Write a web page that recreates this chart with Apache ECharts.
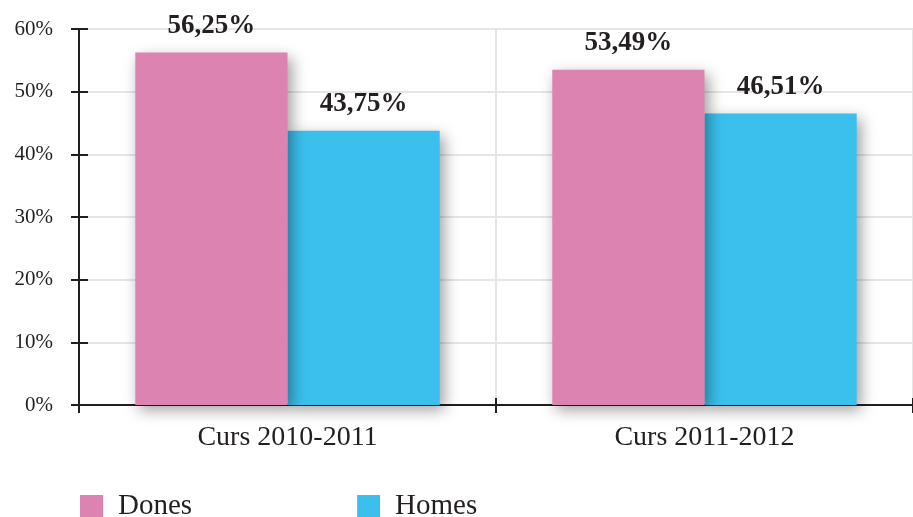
<!DOCTYPE html>
<html><head><meta charset="utf-8">
<script src="https://cdn.jsdelivr.net/npm/echarts@6/dist/echarts.min.js"></script>
<style>html,body{margin:0;padding:0;background:#fff}#c{width:913px;height:517px}</style>
</head><body><div id="c"></div>
<script>
const categories = ['Curs 2010-2011', 'Curs 2011-2012'];
const seriesNames = ['Dones', 'Homes'];
const dones = [56.25, 53.49];
const homes = [43.75, 46.51];
const yTicks = [0, 10, 20, 30, 40, 50, 60];

const FONT = '"Liberation Serif", "DejaVu Serif", serif';
const INK = '#231f20';
const fmt = v => v.toFixed(2).replace('.', ',') + '%';

const chart = echarts.init(document.getElementById('c'), null, {renderer: 'canvas'});
const yMin = yTicks[0], yMax = yTicks[yTicks.length - 1], yInt = yTicks[1] - yTicks[0];
chart.setOption({
  animation: false,
  backgroundColor: '#fff',
  grid: {left: 79, right: -4, top: 29, bottom: 112},
  legend: {
    left: 75, top: 487, itemWidth: 23, itemHeight: 23, itemGap: 165,
    icon: 'rect',
    textStyle: {fontFamily: FONT, fontSize: 29, color: INK, padding: [0, 0, 0, 10]},
    data: seriesNames
  },
  xAxis: [{
    type: 'category', data: categories,
    axisLine: {lineStyle: {color: INK, width: 2}},
    axisTick: {show: true, length: 8, lineStyle: {color: INK, width: 2}},
    axisLabel: {fontFamily: FONT, fontSize: 28, color: INK, margin: 19},
    splitLine: {show: true, lineStyle: {color: '#e6e6e6', width: 2}}
  }, {
    type: 'category', data: categories, position: 'bottom',
    axisLine: {show: false},
    axisTick: {show: true, inside: true, length: 7, lineStyle: {color: INK, width: 2}},
    axisLabel: {show: false}, splitLine: {show: false}
  }],
  yAxis: [{
    type: 'value', min: yMin, max: yMax, interval: yInt,
    axisLine: {show: true, lineStyle: {color: INK, width: 2}},
    axisTick: {show: true, length: 8, lineStyle: {color: INK, width: 2}},
    axisLabel: {fontFamily: FONT, fontSize: 21, color: INK, margin: 26, formatter: '{value}%'},
    splitLine: {show: true, lineStyle: {color: '#e6e6e6', width: 2}}
  }, {
    type: 'value', min: yMin, max: yMax, interval: yInt, position: 'left',
    axisLine: {show: false},
    axisTick: {show: true, inside: true, length: 9, lineStyle: {color: INK, width: 2}},
    axisLabel: {show: false}, splitLine: {show: false}
  }],
  series: [{
    name: seriesNames[0], type: 'bar', data: dones, z: 3,
    barCategoryGap: '27%', barGap: '0%',
    itemStyle: {color: '#dc83b2', shadowBlur: 14, shadowColor: 'rgba(0,0,0,0.38)', shadowOffsetX: 4, shadowOffsetY: 5},
    label: {show: true, position: 'top', distance: 13, fontFamily: FONT, fontSize: 27, fontWeight: 'bold', color: INK, formatter: p => fmt(p.value)}
  }, {
    name: seriesNames[1], type: 'bar', data: homes, z: 2,
    barCategoryGap: '27%', barGap: '0%',
    itemStyle: {color: '#3bc0ee', shadowBlur: 14, shadowColor: 'rgba(0,0,0,0.38)', shadowOffsetX: 4, shadowOffsetY: 5},
    label: {show: true, position: 'top', distance: 13, fontFamily: FONT, fontSize: 27, fontWeight: 'bold', color: INK, formatter: p => fmt(p.value)}
  }]
});
</script></body></html>
